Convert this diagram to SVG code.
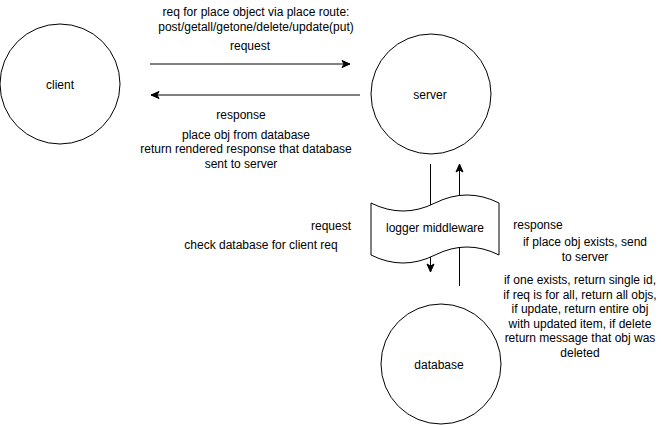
<svg xmlns="http://www.w3.org/2000/svg" width="661" height="425" viewBox="0 0 661 425">
  <style>
    .node { fill: #ffffff; stroke: #000000; stroke-width: 1; }
    .edge { fill: none; stroke: #000000; stroke-width: 1; }
    text { font-family: "Liberation Sans", Arial, Helvetica, sans-serif; font-size: 12px; fill: #000000; text-anchor: middle; dominant-baseline: central; }
  </style>
  <defs>
    <marker id="arrow" markerUnits="userSpaceOnUse" markerWidth="10" markerHeight="10" viewBox="0 0 10 10" refX="9" refY="5" orient="auto">
      <path d="M1,1.5 L9,5 L1,8.5 L3,5 Z" fill="#000000" stroke="#000000" stroke-width="1"/>
    </marker>
  </defs>
  <rect width="661" height="425" fill="#ffffff"/>

  <!-- connectors -->
  <g id="connectors">
    <line class="edge" x1="150" y1="64" x2="350" y2="64" marker-end="url(#arrow)"/>
    <line class="edge" x1="360" y1="95" x2="151" y2="95" marker-end="url(#arrow)"/>
    <line class="edge" x1="430.5" y1="164" x2="430.5" y2="272" marker-end="url(#arrow)"/>
    <line class="edge" x1="459.5" y1="286" x2="459.5" y2="164" marker-end="url(#arrow)"/>
  </g>

  <!-- nodes -->
  <g id="client">
    <circle class="node" cx="60" cy="84" r="60"/>
    <text x="60" y="85">client</text>
  </g>
  <g id="server">
    <circle class="node" cx="431" cy="94" r="60"/>
    <text x="430" y="95">server</text>
  </g>
  <g id="database">
    <circle class="node" cx="441" cy="364" r="60"/>
    <text x="439" y="365">database</text>
  </g>
  <g id="logger-middleware">
    <path class="node" d="M371,203 Q403,219 435,203 Q467,187 499,203 L499,255 Q467,239 435,255 Q403,271 371,255 Z"/>
    <text x="435" y="228">logger middleware</text>
  </g>

  <!-- labels -->
  <g id="labels">
    <text x="256" y="12">req for place object via place route:</text>
    <text x="256" y="26.5">post/getall/getone/delete/update(put)</text>
    <text x="250" y="46">request</text>
    <text x="241" y="115">response</text>
    <text x="246" y="134.5">place obj from database</text>
    <text x="246" y="149">return rendered response that database</text>
    <text x="241" y="163.5">sent to server</text>
    <text x="331" y="226">request</text>
    <text x="261" y="245">check database for client req</text>
    <text x="538" y="225">response</text>
    <text x="585" y="242">if place obj exists, send</text>
    <text x="585" y="256.5">to server</text>
    <text x="580" y="280">if one exists, return single id,</text>
    <text x="580" y="294.5">if req is for all, return all objs,</text>
    <text x="580" y="309">if update, return entire obj</text>
    <text x="580" y="323.5">with updated item, if delete</text>
    <text x="580" y="338">return message that obj was</text>
    <text x="580" y="352.5">deleted</text>
  </g>
</svg>
